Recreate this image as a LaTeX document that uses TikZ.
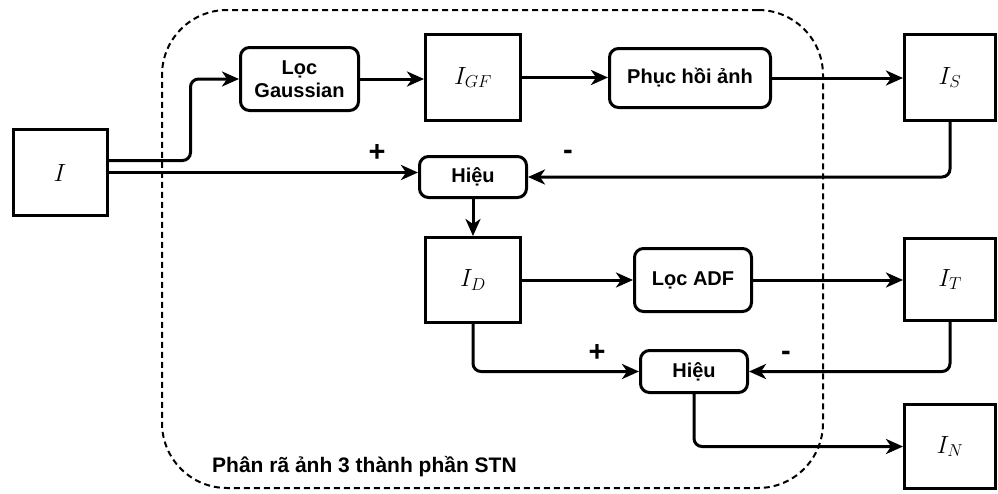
\documentclass[tikz,border=0pt]{standalone}
\usepackage[no-math]{fontspec}
\setmainfont{Liberation Sans}
\usetikzlibrary{arrows.meta,calc}
\begin{document}
\begin{tikzpicture}[x=1pt,y=-1pt,
  imgbox/.style={draw, line width=3pt, inner sep=0pt, fill=white,
    font=\fontsize{27}{30}\selectfont},
  procbox/.style={draw, line width=3pt, inner sep=0pt, fill=white,
    rounded corners=9pt, align=center,
    font=\bfseries\fontsize{20}{24}\selectfont},
  arr/.style={line width=3pt, rounded corners=8pt,
    -{Stealth[length=17pt,width=15pt,inset=5pt]}},
  sign/.style={font=\bfseries\fontsize{29}{30}\selectfont, inner sep=0pt},
  frame/.style={draw, line width=2pt, dash pattern=on 6pt off 4pt,
    rounded corners=65pt, inner sep=0pt}
]
\useasboundingbox (0,0) rectangle (998,493);

% enclosing region of the decomposition
\node[frame, minimum width=661pt, minimum height=478pt] (region) at (492.5,249) {};
\node[anchor=west, inner sep=0pt, font=\bfseries\fontsize{21}{24}\selectfont]
  (regionlabel) at (212,467) {Phân rã ảnh 3 thành phần STN};

% image boxes
\node[imgbox, minimum width=94pt, minimum height=86pt] (I)   at (60,172.5) {$I$};
\node[imgbox, minimum width=95pt, minimum height=86pt] (IGF) at (473,77.5) {$I_{GF}$};
\node[imgbox, minimum width=91pt, minimum height=86pt] (IS)  at (950,77.5) {$I_S$};
\node[imgbox, minimum width=95pt, minimum height=85pt] (ID)  at (473,280) {$I_D$};
\node[imgbox, minimum width=91pt, minimum height=82pt] (IT)  at (950,279.5) {$I_T$};
\node[imgbox, minimum width=91pt, minimum height=84pt] (IN)  at (950,446.5) {$I_N$};

% processing blocks
\node[procbox, minimum width=118pt, minimum height=63pt] (gauss) at (299.5,79) {Lọc\\[-1pt]Gaussian};
\node[procbox, minimum width=161pt, minimum height=59pt] (phuc)  at (690,78) {Phục hồi ảnh};
\node[procbox, minimum width=107pt, minimum height=41pt] (hieuA) at (473,177) {Hiệu};
\node[procbox, minimum width=117pt, minimum height=63pt] (adf)   at (693,280) {Lọc ADF};
\node[procbox, minimum width=107pt, minimum height=42pt] (hieuB) at (694,371.5) {Hiệu};

% connectors
\draw[arr] ([yshift=12pt]I.east) -- ++(82,0) |- (gauss.west);
\draw[arr] (I.east) -- (I.east -| hieuA.west);
\draw[arr] (gauss.east) -- (gauss.east -| IGF.west);
\draw[arr] (IGF.east) -- (IGF.east -| phuc.west);
\draw[arr] (phuc.east) -- (phuc.east -| IS.west);
\draw[arr] (IS.south) |- (hieuA.east);
\draw[arr] (hieuA.south) -- (ID.north);
\draw[arr] (ID.east) -- (ID.east -| adf.west);
\draw[arr] (adf.east) -- (adf.east -| IT.west);
\draw[arr] (IT.south) |- (hieuB.east);
\draw[arr] (ID.south) |- (hieuB.west);
\draw[arr] (hieuB.south) |- (IN.west);

% signs at the subtraction inputs
\node[sign] (plusA)  at (377,153) {+};
\node[sign] (minusA) at (568,155) {-};
\node[sign] (plusB)  at (597,353) {+};
\node[sign] (minusB) at (786,356) {-};
\end{tikzpicture}
\end{document}
